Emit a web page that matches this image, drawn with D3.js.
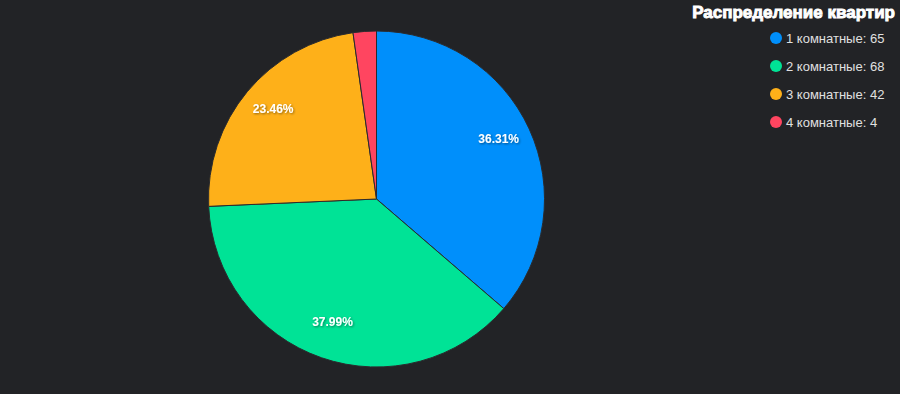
<!DOCTYPE html>
<html>
<head>
<meta charset="utf-8">
<script src="https://cdn.jsdelivr.net/npm/d3@7"></script>
<style>
html,body{margin:0;padding:0;background:#222326;}
svg{display:block;}
</style>
</head>
<body>
<svg id="chart" width="900" height="394"></svg>
<script>
const categories = ["1 комнатные", "2 комнатные", "3 комнатные", "4 комнатные"];
const values = [65, 68, 42, 4];
const colors = ["#008FFB", "#00E396", "#FEB019", "#FF4560"];
const title = "Распределение квартир";

const svg = d3.select("#chart");
const W = 900, H = 394;
svg.append("rect").attr("width", W).attr("height", H).attr("fill", "#222326");

const defs = svg.append("defs");
const f = defs.append("filter").attr("id", "ds").attr("x", "-20%").attr("y", "-50%").attr("width", "140%").attr("height", "200%");
f.append("feDropShadow").attr("dx", 1).attr("dy", 1).attr("stdDeviation", 1).attr("flood-color", "#000").attr("flood-opacity", 0.45);

const cx = 376.5, cy = 199, r = 168;
const total = d3.sum(values);
const pie = d3.pie().sort(null).value(d => d)(values);
const arc = d3.arc().innerRadius(0).outerRadius(r);
const labelArc = d3.arc().innerRadius(r * 0.8).outerRadius(r * 0.8);

const g = svg.append("g").attr("transform", `translate(${cx},${cy})`);
g.selectAll("path").data(pie).join("path")
  .attr("d", arc)
  .attr("fill", (d, i) => colors[i])
  .attr("stroke", "#2a2b2e")
  .attr("stroke-width", 1);

g.selectAll("text").data(pie.filter(d => d.value / total > 0.05)).join("text")
  .attr("transform", d => { const c = labelArc.centroid(d); return `translate(${c[0]},${c[1] - 4})`; })
  .attr("text-anchor", "middle")
  .attr("dy", "0.35em")
  .attr("fill", "#fff")
  .attr("font-family", "Helvetica, Arial, sans-serif")
  .attr("font-size", 12)
  .attr("font-weight", "bold")
  .attr("filter", "url(#ds)")
  .text(d => (d.value / total * 100).toFixed(2) + "%");

svg.append("text")
  .attr("x", 895).attr("y", 18)
  .attr("text-anchor", "end")
  .attr("fill", "#fff")
  .attr("font-family", "Arial, Helvetica, sans-serif")
  .attr("font-size", 17)
  .attr("font-weight", 900)
  .attr("stroke", "#fff").attr("stroke-width", 0.9)
  .text(title);

const lg = svg.append("g");
const items = lg.selectAll("g").data(categories).join("g")
  .attr("transform", (d, i) => `translate(776,${38 + i * 28})`);
items.append("circle").attr("r", 6).attr("fill", (d, i) => colors[i]);
items.append("text")
  .attr("x", 10).attr("dy", "0.35em")
  .attr("fill", "#e0e0e0")
  .attr("font-family", "Helvetica, Arial, sans-serif")
  .attr("font-size", 13)
  .text((d, i) => `${d}: ${values[i]}`);
</script>
</body>
</html>
